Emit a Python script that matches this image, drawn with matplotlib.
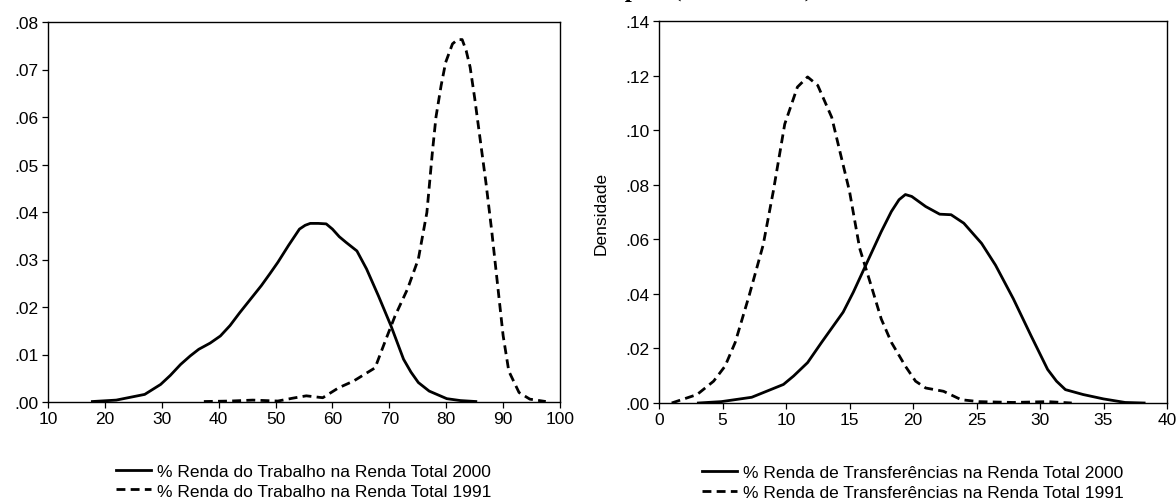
import numpy as np
import matplotlib
matplotlib.use("Agg")
import matplotlib.pyplot as plt
from matplotlib.ticker import FuncFormatter, MultipleLocator

plt.rcParams['font.family'] = ['Liberation Sans', 'DejaVu Sans']

# painel esquerdo: % renda do trabalho
trab_x_2000 = [17.8, 22, 27, 29.8, 31.5, 33.3, 35, 36.5, 38.5, 40.3, 42, 43.7, 45.5, 47.5, 49,
               50.4, 52.3, 54.2, 55.2, 56.1, 57.5, 58.9, 60, 61.2, 62.4, 64.3, 66, 68.1,
               70.3, 72.5, 73.8, 75.1, 77, 80.1, 82.5, 85.2]
trab_y_2000 = [0.0001, 0.0004, 0.0016, 0.0037, 0.0056, 0.0079, 0.0097, 0.0111, 0.0124, 0.0139,
               0.0161, 0.0188, 0.0215, 0.0245, 0.0270, 0.0294, 0.0330, 0.0364, 0.0372, 0.0376,
               0.0376, 0.0375, 0.0364, 0.0348, 0.0336, 0.0318, 0.0280, 0.0223, 0.0160, 0.0090,
               0.0063, 0.0041, 0.0023, 0.0007, 0.0003, 0.0001]
trab_x_1991 = [37.4, 42, 46, 50.4, 53, 55.4, 58.3, 61.1, 63.7, 67.5, 69.4, 71, 73.2, 75.1, 76.6,
               77.6, 78.2, 79.1, 79.9, 81.1, 82.0, 82.8, 83.5, 84.2, 85.0, 86.0, 87.0, 88.0,
               89.0, 90.0, 91.0, 92.8, 94.7, 97.5]
trab_y_1991 = [0.0001, 0.0002, 0.0004, 0.0002, 0.0008, 0.0013, 0.0009, 0.0030, 0.0044, 0.0072,
               0.0132, 0.0181, 0.0238, 0.0301, 0.0399, 0.0530, 0.0600, 0.0666, 0.0715, 0.0754,
               0.0763, 0.0763, 0.0740, 0.0705, 0.0640, 0.0550, 0.0460, 0.0360, 0.0250, 0.0140,
               0.0065, 0.0020, 0.0006, 0.0001]

# painel direito: % renda de transferencias
transf_x_2000 = [3.1, 4.9, 7.3, 9.8, 10.6, 11.7, 12.8, 14.5, 15.3, 16.4, 17.5, 18.3, 18.9, 19.4,
                 19.9, 21, 22.1, 23, 24, 25.4, 26.5, 27.9, 29.3, 30.6, 31.3, 32, 33.4, 35, 36.7,
                 38.2]
transf_y_2000 = [0.0, 0.0005, 0.0021, 0.0068, 0.0099, 0.0148, 0.0222, 0.0333, 0.0406, 0.0517,
                 0.0628, 0.0702, 0.0745, 0.0764, 0.0757, 0.0720, 0.0692, 0.0690, 0.0659, 0.0585,
                 0.0505, 0.0382, 0.0246, 0.0123, 0.0080, 0.0049, 0.0031, 0.0015, 0.0002, 0.0]
transf_x_1991 = [1.0, 3.0, 4.3, 5.2, 6.0, 7.1, 8.2, 9.0, 9.9, 10.9, 11.7, 12.5, 13.6, 14.3, 15.0,
                 15.8, 16.7, 17.5, 18.3, 19.4, 20.2, 21.0, 22.4, 23.8, 25.2, 27.9, 30.6, 32.5]
transf_y_1991 = [0.0, 0.0031, 0.0080, 0.0135, 0.0222, 0.0394, 0.0579, 0.0776, 0.1022, 0.1158,
                 0.1195, 0.1164, 0.1047, 0.0911, 0.0776, 0.0567, 0.0431, 0.0308, 0.0222, 0.0135,
                 0.0080, 0.0055, 0.0043, 0.0012, 0.0005, 0.0002, 0.0005, 0.0]

leg_trab = ['% Renda do Trabalho na Renda Total 2000', '% Renda do Trabalho na Renda Total 1991']
leg_transf = ['% Renda de Transferências na Renda Total 2000',
              '% Renda de Transferências na Renda Total 1991']

fmt = FuncFormatter(lambda v, p: ('%.2f' % v).lstrip('0'))

fig = plt.figure(figsize=(11.76, 5.02), dpi=100)
ax1 = fig.add_axes([48 / 1176, 1 - 403 / 502, 512 / 1176, 380 / 502])
ax2 = fig.add_axes([659 / 1176, 1 - 404 / 502, 508 / 1176, 382 / 502])

dash = (0, (3.2, 1.9))
ax1.plot(trab_x_2000, trab_y_2000, color='black', lw=2.0, label=leg_trab[0])
ax1.plot(trab_x_1991, trab_y_1991, color='black', lw=2.0, ls=dash, label=leg_trab[1])
ax1.set_xlim(10, 100)
ax1.set_ylim(0, 0.08)
ax1.xaxis.set_major_locator(MultipleLocator(10))
ax1.yaxis.set_major_locator(MultipleLocator(0.01))

ax2.plot(transf_x_2000, transf_y_2000, color='black', lw=2.0, label=leg_transf[0])
ax2.plot(transf_x_1991, transf_y_1991, color='black', lw=2.0, ls=dash, label=leg_transf[1])
ax2.set_xlim(0, 40)
ax2.set_ylim(0, 0.14)
ax2.xaxis.set_major_locator(MultipleLocator(5))
ax2.yaxis.set_major_locator(MultipleLocator(0.02))
ax2.set_ylabel('Densidade', fontsize=12.5, labelpad=12)

for ax in (ax1, ax2):
    ax.yaxis.set_major_formatter(fmt)
    ax.tick_params(direction='out', length=4.5, width=0.9, labelsize=12.5, pad=2)
    for s in ax.spines.values():
        s.set_linewidth(1.0)

leg_kw = dict(loc='upper center', frameon=False, fontsize=12.5, handlelength=2.0,
              handletextpad=0.35, labelspacing=0.25, borderpad=0)
ax1.legend(bbox_to_anchor=(0.5, -0.14), **leg_kw)
ax2.legend(bbox_to_anchor=(0.5, -0.14), **leg_kw)

# titulo cortado no topo da imagem original
fig.text(668 / 1176, 1.0 + 3 / 502, 'Densidade dos Municípios', ha='right', va='baseline',
         fontsize=18, fontweight='bold', family='Liberation Serif')
fig.text(673 / 1176, 1.0 + 3 / 502, '(1991 e 2000)', ha='left', va='baseline',
         fontsize=18, fontweight='bold', family='Liberation Serif')

fig.savefig('out.png', dpi=100)
